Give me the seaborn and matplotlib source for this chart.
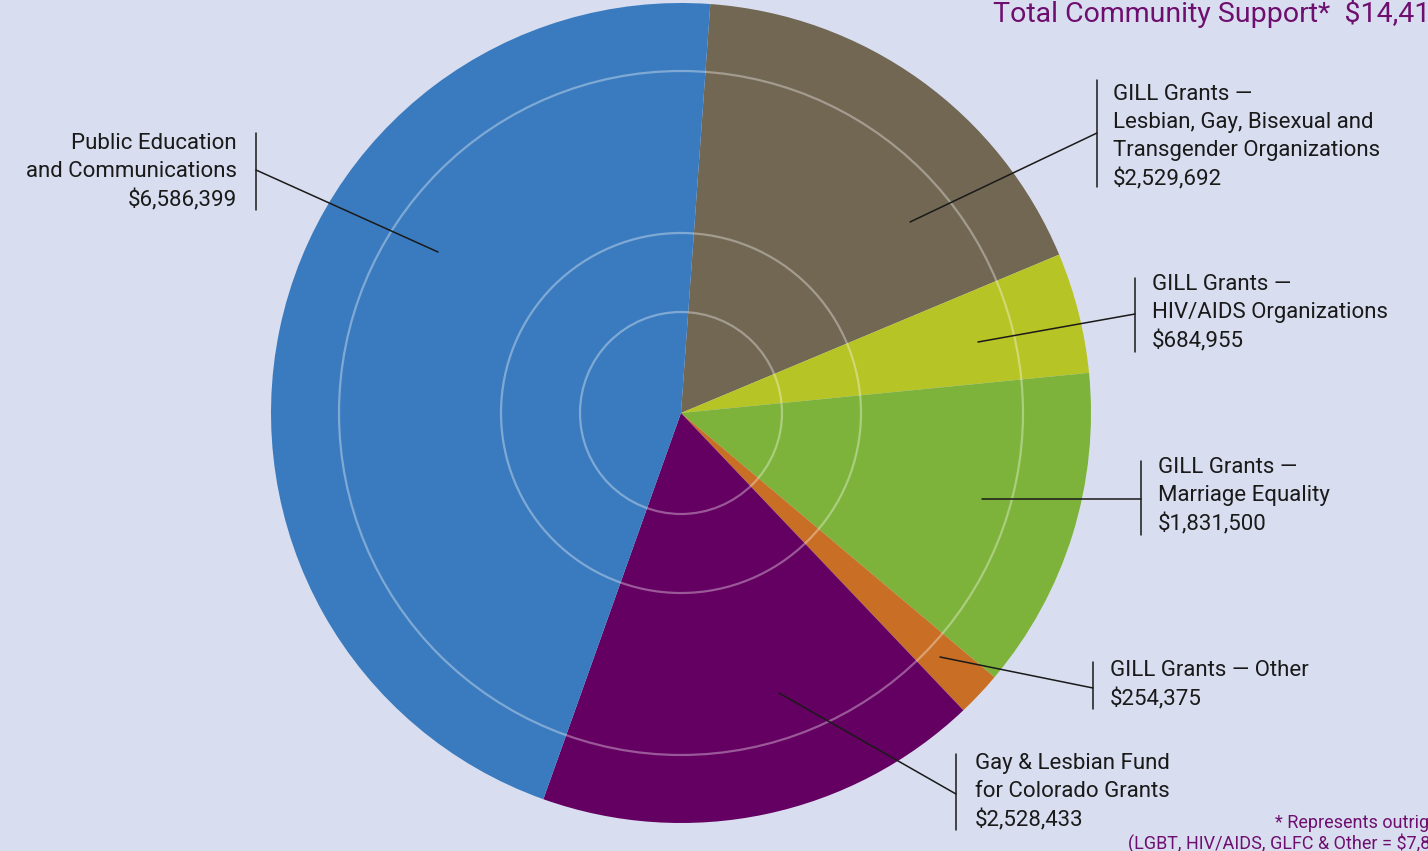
import matplotlib
matplotlib.use("Agg")
import matplotlib.pyplot as plt
from matplotlib.patches import Circle
import seaborn as sns

# Community support breakdown, in pie order (clockwise from the top)
categories = [
    "GILL Grants —\nLesbian, Gay, Bisexual and\nTransgender Organizations",
    "GILL Grants —\nHIV/AIDS Organizations",
    "GILL Grants —\nMarriage Equality",
    "GILL Grants — Other",
    "Gay & Lesbian Fund\nfor Colorado Grants",
    "Public Education\nand Communications",
]
amounts = [2529692, 684955, 1831500, 254375, 2528433, 6586399]
slice_colors = ["#716753", "#b7c425", "#7db33a", "#c96f25", "#640061", "#3a7bbf"]

total = sum(amounts)
outright = sum(amounts[:5])  # everything except public education

W, H = 1428, 851
BG = "#d8deef"
PURPLE = "#6e0f6f"

sns.set_theme(style="white", rc={"axes.facecolor": BG, "figure.facecolor": BG})
plt.rcParams["font.family"] = ["Roboto", "DejaVu Sans"]

fig = plt.figure(figsize=(W / 100, H / 100), dpi=100)
ax = fig.add_axes([0, 0, 1, 1])

cx, cy, r = 681, H - 413, 410
ax.pie(amounts, colors=slice_colors, startangle=85.9, counterclock=False,
       center=(cx, cy), radius=r, wedgeprops=dict(linewidth=0))

# faint rings over the pie
for rr in [101, 180, 342]:
    ax.add_patch(Circle((cx, cy), rr, fill=False, edgecolor="white",
                        alpha=0.35, linewidth=1.6, zorder=3))

ax.set_xlim(0, W)
ax.set_ylim(0, H)
ax.set_aspect("equal")
ax.axis("off")

# label layout: (text x, text center y, ha, bar x, bar top, bar bottom, leader end x, leader end y, bar join y)
layout = [
    (1113, 137, "left", 1097, 80, 187, 910, 222, 133),
    (1152, 313, "left", 1135, 278, 352, 978, 342, 314),
    (1158, 496, "left", 1141, 461, 535, 982, 499, 499),
    (1110, 685, "left", 1093, 662, 709, 940, 657, 688),
    (975, 792, "left", 956, 754, 830, 779, 693, 794),
    (237, 172, "right", 256, 133, 210, 438, 252, 170),
]

for name, amt, (tx, ty, ha, bx, b0, b1, lx, ly, jy) in zip(categories, amounts, layout):
    label = f"{name}\n${amt:,}"
    ax.text(tx, H - ty, label, ha=ha, va="center", fontsize=16,
            color="#1a1a1a", linespacing=1.44, multialignment=ha)
    ax.plot([bx, bx], [H - b0, H - b1], color="#1a1a1a", lw=1.1)
    ax.plot([bx, lx], [H - jy, H - ly], color="#1a1a1a", lw=1.1, zorder=4)

# title and footnote run off the right edge, as in the original layout
ax.text(993, H - 13, f"Total Community Support*  ${total:,}", ha="left", va="center",
        fontsize=20.5, color=PURPLE)
ax.text(1275, H - 823, "* Represents outright grants", ha="left", va="center",
        fontsize=13, color=PURPLE)
ax.text(1128, H - 843, f"(LGBT, HIV/AIDS, GLFC & Other = ${outright:,})", ha="left",
        va="center", fontsize=13, color=PURPLE)

fig.savefig("out.png", dpi=100, facecolor=BG)
